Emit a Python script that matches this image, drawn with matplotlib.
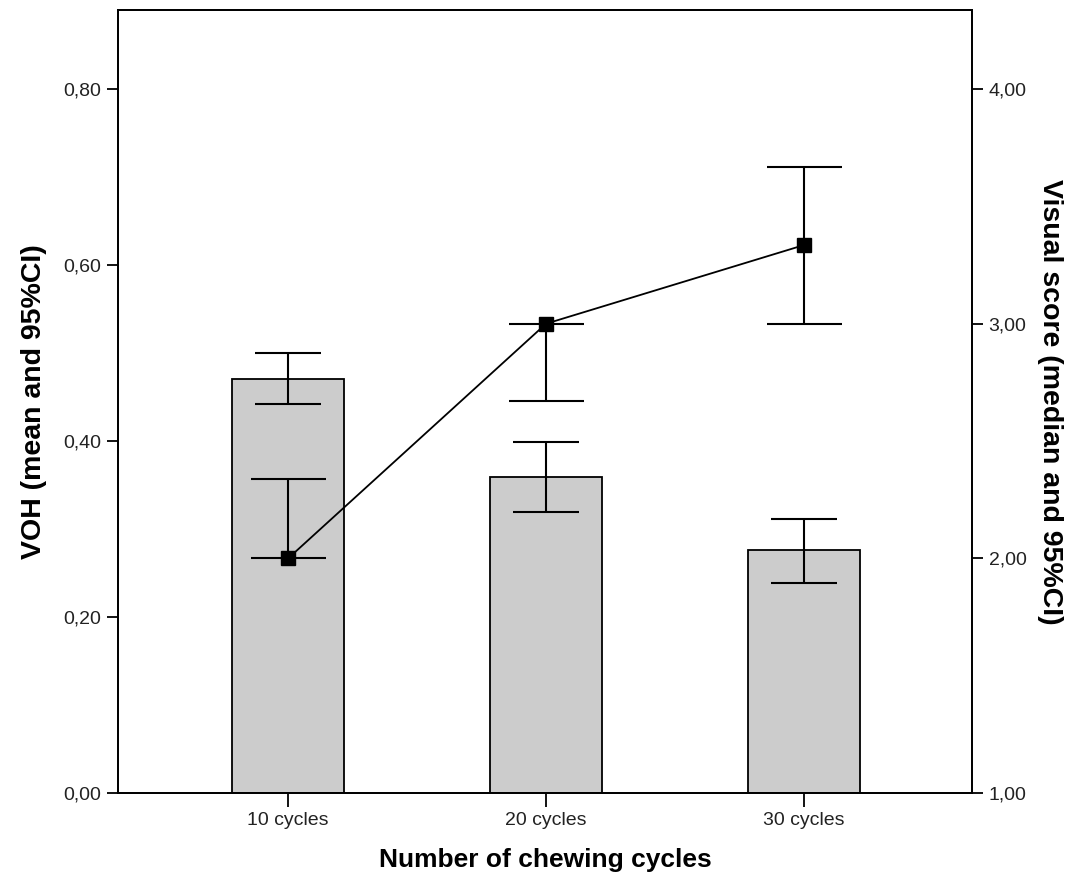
import matplotlib
matplotlib.use("Agg")
import matplotlib.pyplot as plt
from matplotlib.ticker import FuncFormatter

plt.rcParams['font.family'] = ['Liberation Sans', 'DejaVu Sans']

categories = ["10 cycles", "20 cycles", "30 cycles"]
voh_mean = [0.471, 0.359, 0.276]
voh_low = [0.442, 0.319, 0.239]
voh_high = [0.500, 0.399, 0.311]

vis_median = [2.00, 3.00, 3.335]
vis_low = [2.00, 2.67, 3.00]
vis_high = [2.337, 3.00, 3.67]

left_ticks = [0.0, 0.2, 0.4, 0.6, 0.8]
right_ticks = [1.0, 2.0, 3.0, 4.0]

fig = plt.figure(figsize=(10.85, 8.74), dpi=100)
ax = fig.add_axes([118/1085, 1-793/874, (972-118)/1085, (793-10)/874])
x = list(range(len(categories)))

ax.bar(x, voh_mean, width=0.432, color='#cccccc', edgecolor='black', linewidth=1.3, zorder=2)
ax.errorbar(x, voh_mean,
            yerr=[[m - l for m, l in zip(voh_mean, voh_low)], [h - m for m, h in zip(voh_mean, voh_high)]],
            fmt='none', ecolor='black', elinewidth=1.5, capsize=23.5, capthick=1.5, zorder=3)
ax.set_xlim(-0.66, 2.652)
ax.set_ylim(0, 0.8898)
ax.set_yticks(left_ticks)
fmt = FuncFormatter(lambda v, p: f"{v:.2f}".replace('.', ','))
ax.yaxis.set_major_formatter(fmt)
ax.set_xticks(x)
ax.set_xticklabels(categories)

ax2 = ax.twinx()
ax2.errorbar(x, vis_median,
             yerr=[[m - l for m, l in zip(vis_median, vis_low)], [h - m for m, h in zip(vis_median, vis_high)]],
             fmt='none', ecolor='black', elinewidth=1.5, capsize=27, capthick=1.5, zorder=3)
ax2.plot(x, vis_median, color='black', linewidth=1.3, marker='s', markersize=10, zorder=4)
ax2.set_ylim(1.0, 4.337)
ax2.set_yticks(right_ticks)
ax2.yaxis.set_major_formatter(fmt)

for a in (ax, ax2):
    for s in a.spines.values():
        s.set_linewidth(1.3)
        s.set_color('black')
    a.tick_params(axis='both', labelsize=14, length=8, width=1.3, direction='out', colors='black', labelcolor='#222222', pad=4)

ax.tick_params(axis='x', labelsize=14, length=10)

ax.set_xlabel("Number of chewing cycles", fontsize=19, fontweight='bold', labelpad=13)
ax.set_ylabel("VOH (mean and 95%CI)", fontsize=20.5, fontweight='bold', labelpad=12)
ax2.set_ylabel("Visual score (median and 95%CI)", fontsize=20.5, fontweight='bold', rotation=270, labelpad=26)

fig.savefig("out.png", dpi=100)
